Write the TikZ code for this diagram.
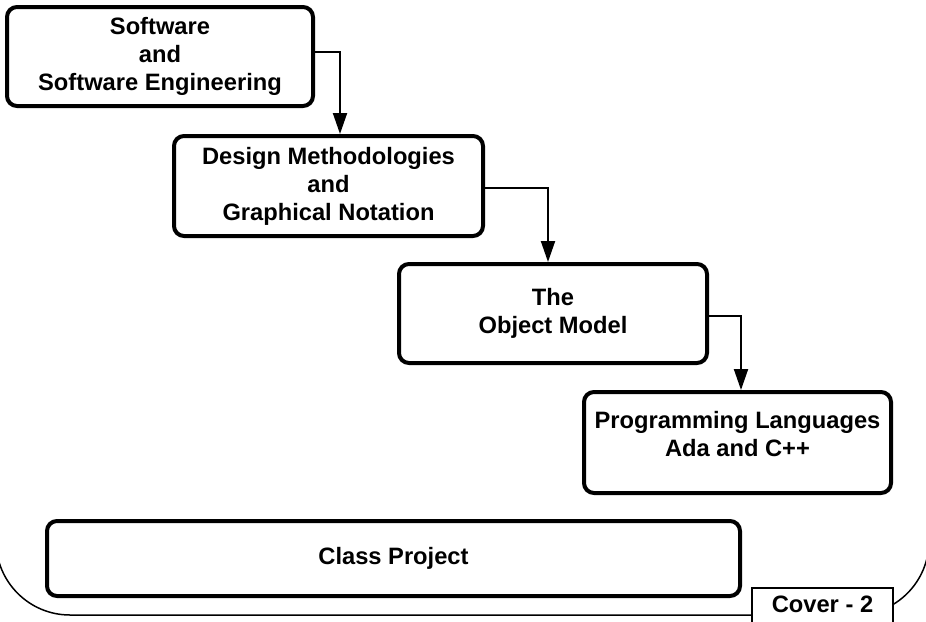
\documentclass[tikz,border=0pt]{standalone}
\usepackage{fontspec}
\setmainfont{Liberation Sans}
\usetikzlibrary{arrows.meta}
\begin{document}
\begin{tikzpicture}[x=1pt,y=1pt,
  txt/.style={align=center, font=\fontsize{23.7}{28}\selectfont\bfseries, inner sep=0pt},
  box/.style={txt, draw, line width=4pt, rounded corners=10pt},
  conn/.style={line width=2pt, -{Triangle[length=21pt,width=14pt]}},
  frameline/.style={line width=1.5pt}]
\useasboundingbox (0,0) rectangle (926,-621);
% outer frame (bottom part of a large rounded rectangle)
\draw[frameline] (-4,-300) -- (-4,-541) arc[start angle=180, end angle=270, radius=74pt]
  -- (855,-615) arc[start angle=270, end angle=360, radius=74pt] -- (929,-300);
% boxes
\node[box, minimum width=306pt, minimum height=99pt] (b1) at (160,-56.5) {Software\\and\\Software Engineering};
\node[box, minimum width=309pt, minimum height=100pt] (b2) at (328.5,-186) {Design Methodologies\\and\\Graphical Notation};
\node[box, minimum width=308pt, minimum height=99pt] (b3) at (553,-313.5) {The\\Object Model};
\node[box, minimum width=307pt, minimum height=101pt] (b4) at (737.5,-442.5) {};
\node[txt] (t4) at (737.5,-434) {Programming Languages\\Ada and C++};
\node[box, minimum width=693pt, minimum height=75pt] (cp) at (393.5,-558.5) {Class Project};
% cover label
\node[draw, fill=white, line width=1.5pt, minimum width=141pt, minimum height=50pt, inner sep=0pt] (cv) at (822.5,-613) {};
\node[txt] (cvt) at (822.5,-604) {Cover - 2};
% connectors
\coordinate (k1) at (340,-52);
\coordinate (k2) at (548,-188);
\coordinate (k3) at (741,-316);
\draw[conn] (b1.east |- k1) -- (k1) -- (k1 |- b2.north);
\draw[conn] (b2.east |- k2) -- (k2) -- (k2 |- b3.north);
\draw[conn] (b3.east |- k3) -- (k3) -- (k3 |- b4.north);
\end{tikzpicture}
\end{document}
